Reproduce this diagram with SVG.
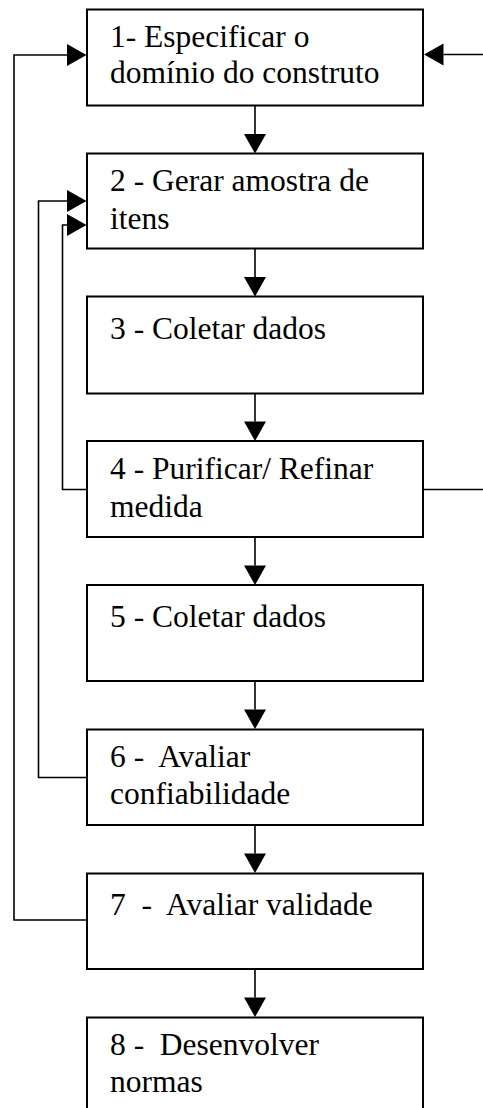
<svg xmlns="http://www.w3.org/2000/svg" width="483" height="1108" viewBox="0 0 483 1108">
  <style>
    .box { fill: #ffffff; stroke: #000000; stroke-width: 2; }
    .lbl { font-family: "Liberation Serif", "Times New Roman", serif; font-size: 31.5px; fill: #000000; white-space: pre; }
    .wire { fill: none; stroke: #000000; stroke-width: 1.6; }
  </style>
  <defs>
    <!-- filled triangular head, placed from the end of the line forward -->
    <marker id="head" markerUnits="userSpaceOnUse" markerWidth="20" markerHeight="22" refX="0" refY="11" orient="auto" overflow="visible">
      <path d="M0,0 L19.5,11 L0,22 Z" fill="#000000"/>
    </marker>
  </defs>

  <!-- process steps -->
  <g id="step1">
    <rect class="box" x="87" y="9.5" width="336" height="96"/>
    <text class="lbl" x="110" y="46.5">1- Especificar o</text>
    <text class="lbl" x="110" y="82.5">domínio do construto</text>
  </g>
  <g id="step2">
    <rect class="box" x="87" y="153.5" width="336" height="95"/>
    <text class="lbl" x="110" y="190.5">2 - Gerar amostra de</text>
    <text class="lbl" x="110" y="229">itens</text>
  </g>
  <g id="step3">
    <rect class="box" x="87" y="296.5" width="336" height="97"/>
    <text class="lbl" x="110" y="339">3 - Coletar dados</text>
  </g>
  <g id="step4">
    <rect class="box" x="87" y="441" width="336" height="96"/>
    <text class="lbl" x="110" y="479">4 - Purificar/ Refinar</text>
    <text class="lbl" x="110" y="516.5">medida</text>
  </g>
  <g id="step5">
    <rect class="box" x="87" y="585" width="336" height="96"/>
    <text class="lbl" x="110" y="626.5">5 - Coletar dados</text>
  </g>
  <g id="step6">
    <rect class="box" x="87" y="729.5" width="336" height="95.5"/>
    <text class="lbl" x="110" y="767">6 -  Avaliar</text>
    <text class="lbl" x="110" y="804">confiabilidade</text>
  </g>
  <g id="step7">
    <rect class="box" x="87" y="873.5" width="336" height="95.5"/>
    <text class="lbl" x="110" y="915">7  -  Avaliar validade</text>
  </g>
  <g id="step8">
    <rect class="box" x="87" y="1017.5" width="336" height="110"/>
    <text class="lbl" x="110" y="1055">8 -  Desenvolver</text>
    <text class="lbl" x="110" y="1091.5">normas</text>
  </g>

  <!-- connectors -->
  <g id="connectors">
    <!-- main sequence -->
    <path class="wire" d="M255,105.5 V134" marker-end="url(#head)"/>
    <path class="wire" d="M255,248.5 V277" marker-end="url(#head)"/>
    <path class="wire" d="M255,393.5 V421.5" marker-end="url(#head)"/>
    <path class="wire" d="M255,537 V565.5" marker-end="url(#head)"/>
    <path class="wire" d="M255,681 V709.5" marker-end="url(#head)"/>
    <path class="wire" d="M255,825 V853.5" marker-end="url(#head)"/>
    <path class="wire" d="M255,969 V997.5" marker-end="url(#head)"/>

    <!-- feedback loops on the left -->
    <path class="wire" d="M87,920 H14 V55 H67" marker-end="url(#head)"/>
    <path class="wire" d="M87,777.5 H38.5 V201 H67" marker-end="url(#head)"/>
    <path class="wire" d="M87,489.5 H62.5 V225 H67" marker-end="url(#head)"/>

    <!-- loop leaving on the right and returning to step 1 -->
    <path class="wire" d="M423,489.5 H483"/>
    <path class="wire" d="M483,54.5 H443.5" marker-end="url(#head)"/>
  </g>
</svg>
